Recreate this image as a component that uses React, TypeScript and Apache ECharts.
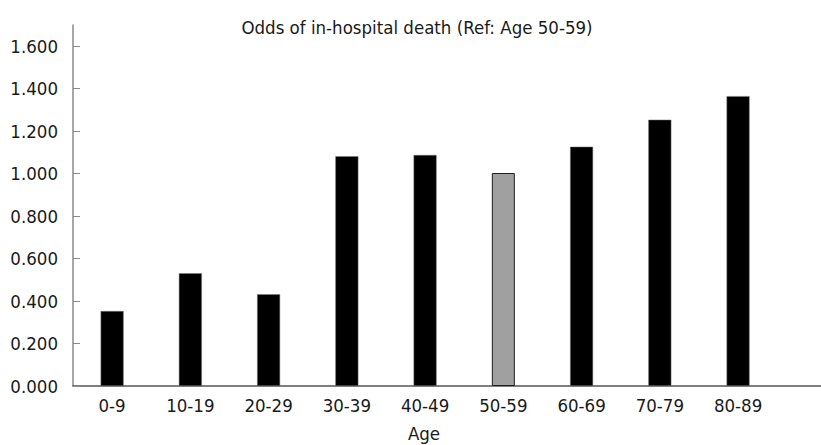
import React, { useEffect, useRef } from "react";
import * as echarts from "echarts";

const categories = ["0-9", "10-19", "20-29", "30-39", "40-49", "50-59", "60-69", "70-79", "80-89"];
const odds = [0.353, 0.531, 0.432, 1.082, 1.088, 1.003, 1.127, 1.254, 1.365];
const refCategory = "50-59";
const yTicks = [0, 0.2, 0.4, 0.6, 0.8, 1.0, 1.2, 1.4, 1.6];
const titleText = "Odds of in-hospital death (Ref: Age 50-59)";
const xAxisTitle = "Age";

const FONT = "'DejaVu Sans Condensed', 'DejaVu Sans', sans-serif";
const FS = 18.5;

export default function App() {
  const ref = useRef<HTMLDivElement>(null);
  useEffect(() => {
    if (!ref.current) return;
    const chart = echarts.init(ref.current, undefined, { renderer: "svg" });
    const xIdx = categories.map((_, i) => i);
    chart.setOption({
      animation: false,
      backgroundColor: "#ffffff",
      textStyle: { fontFamily: FONT },
      title: [
        {
          text: titleText,
          left: 412,
          top: 13,
          textAlign: "center",
          textStyle: { fontFamily: FONT, fontSize: FS, fontWeight: "normal", color: "#1a1a1a" },
        },
        {
          text: xAxisTitle,
          left: 424,
          top: 424,
          padding: 0,
          textAlign: "center",
          textStyle: { fontFamily: FONT, fontSize: FS, fontWeight: "normal", color: "#1a1a1a", lineHeight: 19 },
        },
      ],
      grid: { left: 73, right: 0, top: 25, bottom: 59 },
      xAxis: {
        type: "value",
        min: -0.5,
        max: 9.06,
        splitLine: { show: false },
        axisTick: { show: false },
        axisLine: { show: true, onZero: false, lineStyle: { color: "#555555", width: 1.5 } },
        axisLabel: {
          customValues: xIdx,
          formatter: (v: number) => categories[Math.round(v)] ?? "",
          fontFamily: FONT,
          fontSize: FS,
          color: "#1a1a1a",
          margin: 10,
        },
      },
      yAxis: {
        type: "value",
        min: 0,
        max: 1.7,
        splitLine: { show: false },
        axisLine: { show: true, onZero: false, lineStyle: { color: "#8a8a8a", width: 1.5 } },
        axisTick: { show: true, inside: true, length: 7, customValues: yTicks, lineStyle: { color: "#8a8a8a" } },
        axisLabel: {
          customValues: yTicks,
          formatter: (v: number) => v.toFixed(3),
          fontFamily: FONT,
          fontSize: FS,
          color: "#1a1a1a",
          margin: 15,
        },
      },
      series: [
        {
          type: "bar",
          barWidth: 23,
          data: odds.map((v, i) => ({
            value: [i, v],
            itemStyle:
              categories[i] === refCategory
                ? { color: "#a0a0a0", borderColor: "#1e1e1e", borderWidth: 1 }
                : { color: "#000000", borderColor: "#7a7a7a", borderWidth: 0.5 },
          })),
        },
      ],
    });
    return () => chart.dispose();
  }, []);
  return (
    <div
      ref={ref}
      style={{ position: "fixed", left: 0, top: 0, width: 821, height: 445 }}
    />
  );
}
